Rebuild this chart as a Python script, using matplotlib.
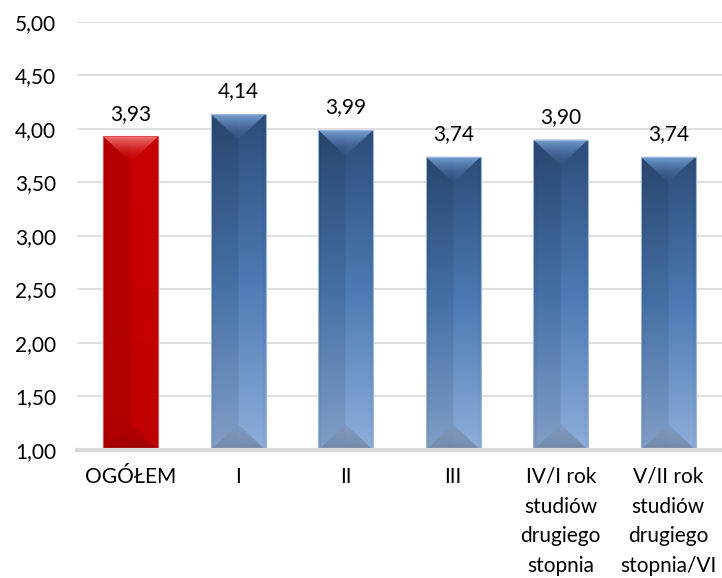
"""Bar chart: average score by year of study, bevelled bars."""

import matplotlib

matplotlib.use("Agg")
import matplotlib.pyplot as plt
import numpy as np
from matplotlib.colors import to_rgb
from matplotlib.patches import Polygon, Rectangle

categories = ["OGÓŁEM", "I", "II", "III",
              "IV/I rok\nstudiów\ndrugiego\nstopnia",
              "V/II rok\nstudiów\ndrugiego\nstopnia/VI"]
values = [3.93, 4.14, 3.99, 3.74, 3.90, 3.74]
highlight = [True, False, False, False, False, False]

Y_MIN, Y_MAX = 1.0, 5.0
BAR_W = 0.51
TRI_DEPTH = 0.24
FS = 15

plt.rcParams["font.family"] = ["Lato", "DejaVu Sans"]


def body_image(top_c, mid_c, bot_c, nx=64, ny=256):
    t = np.linspace(0, 1, ny)[:, None, None]
    top, mid, bot = (np.array(to_rgb(c)) for c in (top_c, mid_c, bot_c))
    col = np.where(t < 0.5, top + (mid - top) * (t / 0.5),
                   mid + (bot - mid) * ((t - 0.5) / 0.5))
    col = np.repeat(col, nx, axis=1)
    x = np.linspace(0, 1, nx)
    shade = np.where(x < 0.5, 0.93, 1.02)
    shade = shade - 0.05 * (x < 0.06) - 0.03 * (x > 0.94)
    return np.clip(col * shade[None, :, None], 0, 1)


def tri_image(c_edge, c_apex, alpha_edge, alpha_apex, flip=False, ny=128):
    t = np.linspace(0, 1, ny)[:, None]
    e, a = np.array(to_rgb(c_edge)), np.array(to_rgb(c_apex))
    rgb = e + (a - e) * t[..., None]
    alpha = alpha_edge + (alpha_apex - alpha_edge) * t
    img = np.concatenate([rgb, alpha[..., None]], axis=2)
    img = np.repeat(img, 4, axis=1)
    return img[::-1] if flip else img


fig = plt.figure(figsize=(7.22, 5.78), dpi=100)
ax = fig.add_axes([0.1066, 0.2215, 0.8934, 0.7405])

for i, (val, hi) in enumerate(zip(values, highlight)):
    x0, x1, xc = i - BAR_W / 2, i + BAR_W / 2, i
    if hi:
        body = body_image("#c40000", "#c20000", "#bc0000")
        top_tri = ("#f27a7a", "#c80000", 1.0, 0.2)
        bot_tri = ("#9e0000", "#b00000", 1.0, 0.6)
        edge = "#e05050"
    else:
        body = body_image("#2c4b76", "#4a78b1", "#8cabd6")
        top_tri = ("#7aa2d6", "#34568a", 1.0, 0.3)
        bot_tri = ("#7389a8", "#7f98bd", 1.0, 0.7)
        edge = "#9ab6dc"

    clip = Rectangle((x0, Y_MIN), BAR_W, val - Y_MIN, transform=ax.transData)
    im = ax.imshow(body, extent=(x0, x1, Y_MIN, val), aspect="auto",
                   origin="upper", interpolation="bilinear", zorder=2)
    im.set_clip_path(clip)

    tri = Polygon([(x0, val), (x1, val), (xc, val - TRI_DEPTH)],
                  closed=True, transform=ax.transData)
    im = ax.imshow(tri_image(*top_tri), extent=(x0, x1, val - TRI_DEPTH, val),
                   aspect="auto", origin="upper", interpolation="bilinear",
                   zorder=3)
    im.set_clip_path(tri)

    tri = Polygon([(x0, Y_MIN), (x1, Y_MIN), (xc, Y_MIN + TRI_DEPTH)],
                  closed=True, transform=ax.transData)
    im = ax.imshow(tri_image(*bot_tri, flip=True),
                   extent=(x0, x1, Y_MIN, Y_MIN + TRI_DEPTH),
                   aspect="auto", origin="upper", interpolation="bilinear",
                   zorder=3)
    im.set_clip_path(tri)

    ax.add_patch(Rectangle((x0, Y_MIN), BAR_W, val - Y_MIN, fill=False,
                           edgecolor=edge, linewidth=0.8, zorder=4))

    ax.text(xc, val + 0.12, f"{val:.2f}".replace(".", ","), ha="center",
            va="bottom", fontsize=FS, color="#000000")

ax.set_xlim(-0.5, len(categories) - 0.5)
ax.set_ylim(Y_MIN, Y_MAX)

yt = np.arange(1.0, 5.01, 0.5)
ax.set_yticks(yt)
ax.set_yticklabels([f"{v:.2f}".replace(".", ",") for v in yt], fontsize=FS)
ax.set_xticks(range(len(categories)))
ax.set_xticklabels(categories, fontsize=FS, linespacing=1.62, va="top")
ax.tick_params(axis="y", length=0, pad=15)
ax.tick_params(axis="x", length=0, pad=12)
ax.grid(axis="y", color="#d9d9d9", linewidth=1.2, zorder=0)
ax.set_axisbelow(True)
for side in ("top", "right", "left"):
    ax.spines[side].set_visible(False)
ax.spines["bottom"].set_color("#d9d9d9")
ax.spines["bottom"].set_linewidth(3)
ax.spines["bottom"].set_zorder(5)

fig.savefig("out.png", dpi=100)
